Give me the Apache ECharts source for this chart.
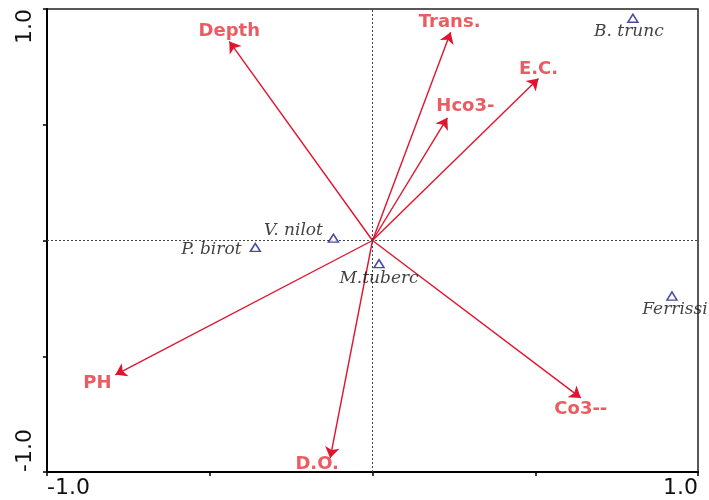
<!DOCTYPE html>
<html>
<head>
<meta charset="utf-8">
<script src="https://cdn.jsdelivr.net/npm/echarts@6/dist/echarts.min.js"></script>
<style>
  html, body { margin: 0; padding: 0; background: #fff; }
  #main { width: 709px; height: 500px; }
</style>
</head>
<body>
<div id="main"></div>
<script>
  // 环境变量（箭头）
  var envNames = ['Depth', 'Trans.', 'E.C.', 'Hco3-', 'PH', 'D.O.', 'Co3--'];
  var envX = [-0.44, 0.24, 0.51, 0.23, -0.79, -0.13, 0.64];
  var envY = [0.86, 0.90, 0.70, 0.53, -0.58, -0.94, -0.68];

  // 物种（三角形）
  var spNames = ['B. trunc', 'V. nilot', 'P. birot', 'M.tuberc', 'Ferrissi'];
  var spX = [0.80, -0.12, -0.36, 0.02, 0.92];
  var spY = [0.96, 0.01, -0.03, -0.10, -0.24];

  var tickLabels = ['-1.0', '1.0'];

  // 标签偏移（像素）
  var envOffset = [[0, -10], [-1, -10], [0, -9], [18, -11], [-18, 9], [-13, 6], [0, 11]];
  var spOffset = [[-4, 13], [-40, -8], [-44, 2], [0, 15], [3, 14]];

  var red = '#e0142e';
  var chart = echarts.init(document.getElementById('main'));

  var arrowData = envNames.map(function (n, i) {
    return { name: n, coords: [[0, 0], [envX[i], envY[i]]] };
  });
  var envLabelData = envNames.map(function (n, i) {
    return {
      name: n,
      value: [envX[i], envY[i]],
      label: { offset: envOffset[i] }
    };
  });
  var spData = spNames.map(function (n, i) {
    return {
      name: n,
      value: [spX[i], spY[i]],
      label: { offset: spOffset[i] }
    };
  });

  var fmt = function (v) {
    if (v === -1) return tickLabels[0];
    if (v === 1) return tickLabels[1];
    return '';
  };

  var option = {
    animation: false,
    grid: {
      left: 47, right: 11, top: 9, bottom: 28,
      show: true, borderColor: '#222', borderWidth: 1.5
    },
    xAxis: {
      type: 'value', min: -1, max: 1, interval: 0.5,
      axisLine: { onZero: false, lineStyle: { color: '#000', width: 2 } },
      axisTick: { show: true, length: 4, lineStyle: { color: '#000', width: 1.5 } },
      splitLine: { show: false },
      axisLabel: {
        formatter: fmt, fontSize: 22, color: '#111', margin: 5,
        fontFamily: 'DejaVu Sans',
        alignMinLabel: 'left', alignMaxLabel: 'right'
      }
    },
    yAxis: {
      type: 'value', min: -1, max: 1, interval: 0.5,
      axisLine: { onZero: false, lineStyle: { color: '#000', width: 2 } },
      axisTick: { show: true, length: 4, lineStyle: { color: '#000', width: 1.5 } },
      splitLine: { show: false },
      axisLabel: {
        formatter: fmt, fontSize: 22, color: '#111', margin: 11, rotate: 90,
        fontFamily: 'DejaVu Sans',
        alignMinLabel: 'left', alignMaxLabel: 'right'
      }
    },
    series: [
      {
        // 零线
        type: 'scatter', data: [], silent: true,
        markLine: {
          silent: true, symbol: 'none', animation: false,
          label: { show: false },
          lineStyle: { color: '#444', type: [2, 2], width: 1 },
          data: [{ xAxis: 0 }, { yAxis: 0 }]
        }
      },
      {
        type: 'lines',
        coordinateSystem: 'cartesian2d',
        symbol: ['none', 'arrow'],
        symbolSize: [8, 11],
        lineStyle: { color: red, width: 1.4, opacity: 1 },
        data: arrowData,
        z: 3
      },
      {
        type: 'scatter', symbolSize: 0, data: envLabelData,
        label: {
          show: true, position: 'inside', formatter: '{b}',
          color: '#e6323a', fontSize: 18, fontWeight: 'bold',
          fontFamily: 'DejaVu Sans'
        },
        z: 4
      },
      {
        type: 'scatter', symbol: 'triangle', symbolSize: [10, 8],
        itemStyle: { color: '#fff', borderColor: '#1c1c8e', borderWidth: 1.5 },
        data: spData,
        label: {
          show: true, position: 'inside', formatter: '{b}',
          color: '#111', fontSize: 17, fontStyle: 'italic',
          fontFamily: 'DejaVu Serif'
        },
        z: 5
      }
    ]
  };

  chart.setOption(option);
</script>
</body>
</html>
